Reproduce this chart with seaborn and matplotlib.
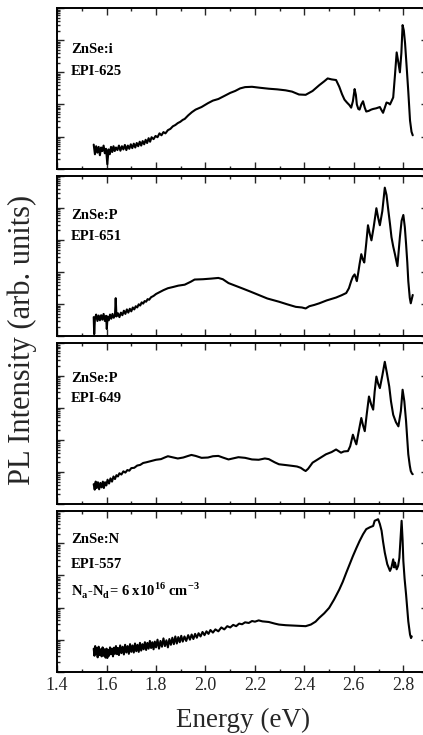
import numpy as np
import pandas as pd
import matplotlib
matplotlib.use("Agg")
import matplotlib.pyplot as plt
import seaborn as sns
from matplotlib.ticker import LogLocator, NullFormatter, MultipleLocator

# ---- data: (energy eV, log10 PL intensity arb.) ----
spec_625 = [
    (1.548, 0.75), (1.553, 0.45), (1.558, 0.70), (1.563, 0.50), (1.568, 0.68), (1.573, 0.42),
    (1.578, 0.66), (1.583, 0.55), (1.588, 0.72), (1.593, 0.48), (1.598, 0.62), (1.603, 0.14),
    (1.608, 0.60), (1.613, 0.45), (1.618, 0.68), (1.623, 0.52), (1.628, 0.70), (1.633, 0.55),
    (1.638, 0.66), (1.644, 0.58), (1.650, 0.72), (1.656, 0.56), (1.662, 0.70), (1.668, 0.60),
    (1.674, 0.74), (1.680, 0.58), (1.686, 0.72), (1.692, 0.62), (1.698, 0.76), (1.704, 0.64),
    (1.710, 0.78), (1.716, 0.66), (1.722, 0.80), (1.728, 0.70), (1.734, 0.84), (1.740, 0.72),
    (1.746, 0.86), (1.752, 0.76), (1.758, 0.90), (1.764, 0.80), (1.770, 0.95), (1.776, 0.84),
    (1.782, 0.98), (1.790, 0.92), (1.798, 1.02), (1.806, 0.98), (1.814, 1.10), (1.822, 1.04),
    (1.830, 1.14), (1.838, 1.10), (1.848, 1.20), (1.858, 1.24), (1.868, 1.32), (1.878, 1.36),
    (1.888, 1.42), (1.898, 1.46), (1.908, 1.52), (1.916, 1.55), (1.930, 1.66), (1.945, 1.76),
    (1.960, 1.84), (1.984, 1.92), (2.010, 2.04), (2.030, 2.12), (2.052, 2.17), (2.080, 2.28),
    (2.100, 2.36), (2.120, 2.42), (2.140, 2.50), (2.160, 2.54), (2.188, 2.55), (2.220, 2.52),
    (2.256, 2.49), (2.290, 2.47), (2.324, 2.44), (2.350, 2.40), (2.378, 2.31), (2.405, 2.30),
    (2.433, 2.42), (2.460, 2.60), (2.480, 2.72), (2.494, 2.81), (2.510, 2.78), (2.528, 2.76),
    (2.541, 2.55), (2.552, 2.32), (2.562, 2.15), (2.572, 2.06), (2.582, 1.98), (2.589, 1.90),
    (2.596, 2.10), (2.603, 2.48), (2.608, 2.30), (2.612, 2.00), (2.618, 1.86), (2.623, 1.84),
    (2.630, 2.00), (2.637, 2.10), (2.644, 1.90), (2.650, 1.78), (2.660, 1.80), (2.670, 1.84),
    (2.678, 1.86), (2.690, 1.88), (2.705, 1.92), (2.712, 1.82), (2.718, 1.74), (2.725, 1.90),
    (2.732, 2.06), (2.740, 2.04), (2.746, 2.00), (2.752, 2.10), (2.759, 2.22), (2.766, 2.90),
    (2.773, 3.62), (2.780, 3.30), (2.786, 3.00), (2.792, 3.60), (2.797, 4.47), (2.802, 4.30),
    (2.807, 3.90), (2.814, 3.10), (2.820, 2.40), (2.827, 1.50), (2.833, 1.15), (2.838, 1.04),
]

spec_651 = [
    (1.548, 0.60), (1.550, 0.07), (1.553, 0.55), (1.558, 0.68), (1.563, 0.48), (1.568, 0.65),
    (1.573, 0.50), (1.578, 0.66), (1.583, 0.52), (1.588, 0.70), (1.593, 0.48), (1.598, 0.64),
    (1.601, 0.23), (1.604, 0.62), (1.609, 0.50), (1.614, 0.68), (1.619, 0.55), (1.624, 0.70),
    (1.629, 0.58), (1.634, 0.66), (1.637, 1.19), (1.640, 0.62), (1.646, 0.72), (1.652, 0.60),
    (1.658, 0.74), (1.664, 0.66), (1.670, 0.80), (1.676, 0.70), (1.682, 0.84), (1.688, 0.74),
    (1.694, 0.86), (1.700, 0.78), (1.706, 0.90), (1.712, 0.84), (1.718, 0.94), (1.724, 0.90),
    (1.730, 1.00), (1.736, 0.96), (1.742, 1.06), (1.748, 1.02), (1.754, 1.10), (1.760, 1.08),
    (1.766, 1.16), (1.772, 1.14), (1.780, 1.22), (1.790, 1.26), (1.800, 1.32), (1.810, 1.36),
    (1.820, 1.40), (1.830, 1.44), (1.848, 1.50), (1.870, 1.54), (1.890, 1.58), (1.916, 1.61),
    (1.940, 1.70), (1.956, 1.77), (1.990, 1.78), (2.024, 1.80), (2.052, 1.82), (2.070, 1.78),
    (2.093, 1.66), (2.120, 1.58), (2.147, 1.50), (2.180, 1.40), (2.215, 1.29), (2.250, 1.18),
    (2.297, 1.08), (2.330, 1.00), (2.365, 0.92), (2.390, 0.90), (2.405, 0.87), (2.420, 0.94),
    (2.440, 0.98), (2.460, 1.03), (2.490, 1.12), (2.528, 1.21), (2.550, 1.28), (2.569, 1.35),
    (2.580, 1.50), (2.589, 1.72), (2.596, 1.86), (2.603, 1.93), (2.608, 1.82), (2.612, 1.72),
    (2.618, 2.00), (2.623, 2.25), (2.630, 2.56), (2.636, 2.40), (2.642, 2.30), (2.650, 2.90),
    (2.657, 3.46), (2.664, 3.20), (2.671, 2.99), (2.680, 3.40), (2.691, 3.99), (2.698, 3.70),
    (2.705, 3.46), (2.715, 3.90), (2.725, 4.63), (2.732, 4.40), (2.739, 3.94), (2.746, 3.50),
    (2.752, 3.09), (2.759, 2.80), (2.766, 2.56), (2.776, 2.19), (2.786, 3.09), (2.793, 3.60),
    (2.800, 3.78), (2.806, 3.40), (2.811, 2.88), (2.816, 2.30), (2.820, 1.72), (2.826, 1.20),
    (2.830, 1.03), (2.838, 1.29),
]

spec_649 = [
    (1.548, 0.62), (1.552, 0.45), (1.556, 0.70), (1.560, 0.50), (1.565, 0.68), (1.570, 0.46),
    (1.575, 0.66), (1.580, 0.52), (1.585, 0.70), (1.589, 0.50), (1.594, 0.68), (1.599, 0.58),
    (1.604, 0.76), (1.610, 0.64), (1.616, 0.80), (1.622, 0.70), (1.628, 0.86), (1.634, 0.78),
    (1.640, 0.90), (1.646, 0.86), (1.652, 0.96), (1.660, 0.92), (1.668, 1.02), (1.676, 0.98),
    (1.684, 1.06), (1.692, 1.04), (1.700, 1.12), (1.712, 1.13), (1.724, 1.20), (1.736, 1.22),
    (1.748, 1.28), (1.760, 1.30), (1.780, 1.34), (1.800, 1.38), (1.820, 1.40), (1.835, 1.45),
    (1.848, 1.49), (1.865, 1.46), (1.888, 1.42), (1.910, 1.45), (1.930, 1.50), (1.943, 1.53),
    (1.960, 1.50), (1.984, 1.44), (2.010, 1.45), (2.030, 1.49), (2.052, 1.50), (2.070, 1.45),
    (2.093, 1.39), (2.110, 1.42), (2.133, 1.46), (2.160, 1.44), (2.188, 1.39), (2.215, 1.38),
    (2.240, 1.42), (2.256, 1.40), (2.280, 1.30), (2.297, 1.24), (2.330, 1.21), (2.351, 1.19),
    (2.370, 1.17), (2.385, 1.13), (2.398, 1.06), (2.405, 1.03), (2.415, 1.10), (2.433, 1.29),
    (2.460, 1.42), (2.487, 1.55), (2.510, 1.62), (2.528, 1.70), (2.540, 1.64), (2.548, 1.60),
    (2.560, 1.64), (2.576, 1.65), (2.585, 1.80), (2.596, 2.16), (2.603, 2.00), (2.610, 1.86),
    (2.618, 2.20), (2.630, 2.68), (2.637, 2.45), (2.644, 2.27), (2.652, 2.80), (2.661, 3.35),
    (2.670, 3.10), (2.678, 2.94), (2.684, 3.50), (2.691, 3.97), (2.698, 3.75), (2.705, 3.61),
    (2.715, 4.00), (2.725, 4.43), (2.733, 4.10), (2.743, 3.66), (2.750, 3.20), (2.759, 2.78),
    (2.770, 2.55), (2.780, 2.42), (2.790, 2.90), (2.797, 3.56), (2.804, 3.20), (2.811, 2.58),
    (2.816, 2.00), (2.820, 1.55), (2.826, 1.20), (2.830, 1.03), (2.835, 0.95), (2.838, 0.93),
]

spec_557 = [
    (1.548, 0.72), (1.551, 0.50), (1.554, 0.80), (1.557, 0.55), (1.560, 0.74), (1.564, 0.45),
    (1.568, 0.78), (1.572, 0.52), (1.576, 0.70), (1.580, 0.48), (1.584, 0.76), (1.588, 0.50),
    (1.592, 0.70), (1.596, 0.44), (1.600, 0.72), (1.603, 0.43), (1.606, 0.68), (1.610, 0.50),
    (1.614, 0.76), (1.618, 0.55), (1.622, 0.72), (1.626, 0.48), (1.630, 0.75), (1.634, 0.56),
    (1.638, 0.80), (1.642, 0.55), (1.646, 0.74), (1.650, 0.52), (1.655, 0.82), (1.660, 0.58),
    (1.665, 0.78), (1.670, 0.54), (1.675, 0.84), (1.680, 0.60), (1.685, 0.80), (1.690, 0.56),
    (1.695, 0.86), (1.700, 0.62), (1.705, 0.82), (1.710, 0.60), (1.715, 0.88), (1.720, 0.64),
    (1.725, 0.84), (1.730, 0.62), (1.735, 0.90), (1.740, 0.66), (1.745, 0.86), (1.750, 0.70),
    (1.755, 0.92), (1.760, 0.68), (1.765, 0.90), (1.770, 0.72), (1.775, 0.96), (1.780, 0.74),
    (1.785, 0.92), (1.790, 0.70), (1.795, 0.94), (1.800, 0.76), (1.806, 1.00), (1.812, 0.72),
    (1.818, 0.96), (1.824, 0.78), (1.830, 1.04), (1.836, 0.80), (1.842, 0.98), (1.848, 0.76),
    (1.854, 1.02), (1.860, 0.84), (1.866, 1.06), (1.872, 0.86), (1.878, 1.10), (1.884, 0.88),
    (1.890, 1.08), (1.896, 0.92), (1.902, 1.12), (1.908, 0.94), (1.915, 1.10), (1.922, 0.96),
    (1.930, 1.14), (1.937, 1.00), (1.944, 1.16), (1.951, 1.02), (1.958, 1.18), (1.965, 1.06),
    (1.972, 1.20), (1.980, 1.10), (1.988, 1.24), (1.996, 1.14), (2.004, 1.26), (2.012, 1.18),
    (2.020, 1.30), (2.030, 1.22), (2.040, 1.32), (2.052, 1.26), (2.064, 1.38), (2.076, 1.32),
    (2.088, 1.42), (2.100, 1.38), (2.112, 1.46), (2.124, 1.42), (2.136, 1.50), (2.148, 1.48),
    (2.160, 1.54), (2.175, 1.52), (2.188, 1.58), (2.200, 1.56), (2.215, 1.60), (2.230, 1.57),
    (2.256, 1.55), (2.280, 1.50), (2.297, 1.47), (2.325, 1.45), (2.351, 1.44), (2.380, 1.43),
    (2.405, 1.42), (2.426, 1.47), (2.445, 1.56), (2.460, 1.68), (2.480, 1.82), (2.500, 1.99),
    (2.520, 2.25), (2.541, 2.56), (2.555, 2.80), (2.569, 3.08), (2.583, 3.35), (2.596, 3.60),
    (2.610, 3.85), (2.623, 4.07), (2.637, 4.28), (2.650, 4.44), (2.665, 4.50), (2.678, 4.54),
    (2.684, 4.70), (2.690, 4.72), (2.698, 4.75), (2.705, 4.60), (2.712, 4.39), (2.718, 4.05),
    (2.725, 3.71), (2.735, 3.35), (2.746, 3.14), (2.752, 3.25), (2.759, 3.50), (2.763, 3.25),
    (2.766, 3.40), (2.773, 3.19), (2.779, 3.30), (2.784, 3.55), (2.789, 4.20), (2.793, 4.70),
    (2.797, 4.10), (2.800, 3.45), (2.805, 2.90), (2.811, 2.41), (2.816, 1.95), (2.820, 1.57),
    (2.827, 1.16), (2.831, 1.05), (2.834, 1.10),
]

panel_specs = [spec_625, spec_651, spec_649, spec_557]
panel_labels = [
    ["ZnSe:i", "EPI-625"],
    ["ZnSe:P", "EPI-651"],
    ["ZnSe:P", "EPI-649"],
    ["ZnSe:N", "EPI-557",
     r"N$_\mathregular{a}$-N$_\mathregular{d}$= 6 x10$^\mathregular{16}$ cm$^\mathregular{-3}$"],
]
label_y = [[0.74, 0.605], [0.75, 0.625], [0.78, 0.655], [0.825, 0.67, 0.51]]
x_ticks = [1.4, 1.6, 1.8, 2.0, 2.2, 2.4, 2.6, 2.8]
x_label = "Energy (eV)"
y_label = "PL Intensity (arb. units)"

# ---- style ----
sns.set_style("ticks")
plt.rcParams["font.family"] = ["Liberation Serif", "DejaVu Serif"]
plt.rcParams["mathtext.fontset"] = "custom"
plt.rcParams["mathtext.rm"] = "Liberation Serif"
plt.rcParams["mathtext.bf"] = "Liberation Serif:bold"

fig = plt.figure(figsize=(4.23, 7.35), dpi=100)
gs = fig.add_gridspec(4, 1, left=0.135, right=1.012, top=0.989, bottom=0.086, hspace=0.044)

axes = []
for i, spec in enumerate(panel_specs):
    ax = fig.add_subplot(gs[i, 0])
    df = pd.DataFrame(spec, columns=["E", "logI"])
    df["I"] = 10 ** df["logI"]
    sns.lineplot(data=df, x="E", y="I", ax=ax, color="black", lw=1.5,
                 estimator=None, sort=False)
    ax.set_yscale("log")
    ax.set_ylim(1, 1e5)
    ax.set_xlim(1.4, 2.9)
    ax.set_xticks(x_ticks)
    ax.xaxis.set_minor_locator(MultipleLocator(0.1))
    ax.yaxis.set_major_locator(LogLocator(base=10, numticks=10))
    ax.yaxis.set_minor_locator(LogLocator(base=10, subs=np.arange(2, 10), numticks=10))
    ax.yaxis.set_major_formatter(NullFormatter())
    ax.yaxis.set_minor_formatter(NullFormatter())
    ax.tick_params(which="both", direction="in", top=True, right=True, width=1.0)
    ax.tick_params(which="major", length=5)
    ax.tick_params(which="minor", length=2.5)
    ax.tick_params(axis="x", labelsize=13, pad=4)
    for sp in ax.spines.values():
        sp.set_linewidth(1.4)
        sp.set_color("black")
    ax.set_xlabel("")
    ax.set_ylabel("")
    if i < 3:
        ax.tick_params(axis="x", labelbottom=False)
    for txt, yy in zip(panel_labels[i], label_y[i]):
        ax.text(0.038, yy, txt, transform=ax.transAxes, fontsize=10.5,
                fontweight="bold", ha="left", va="center", color="black")
    axes.append(ax)

axes[-1].set_xlabel(x_label, fontsize=19.5, labelpad=10)
fig.text(0.052, 0.537, y_label, rotation=90, fontsize=22, ha="center", va="center")

fig.savefig("out.png", dpi=100)
